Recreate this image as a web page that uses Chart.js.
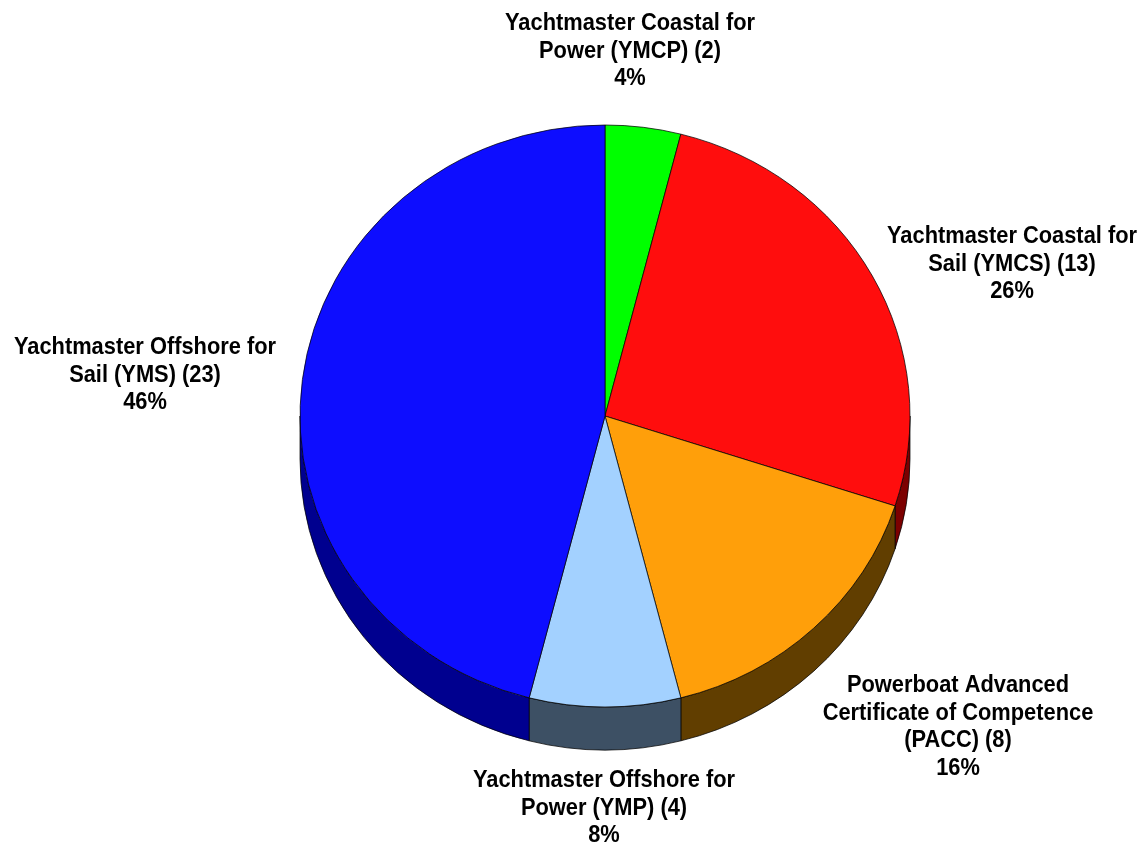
<!DOCTYPE html>
<html>
<head>
<meta charset="utf-8">
<script src="https://cdn.jsdelivr.net/npm/chart.js@4.4.0/dist/chart.umd.min.js"></script>
<style>
html,body{margin:0;padding:0;background:#fff;}
#wrap{width:1148px;height:848px;position:relative;}
</style>
</head>
<body>
<div id="wrap"><canvas id="c" width="1148" height="848"></canvas></div>
<script>
// ---- data ----
const categories = [
  'Yachtmaster Coastal for Power (YMCP)',
  'Yachtmaster Coastal for Sail (YMCS)',
  'Powerboat Advanced Certificate of Competence (PACC)',
  'Yachtmaster Offshore for Power (YMP)',
  'Yachtmaster Offshore for Sail (YMS)'
];
const counts = [2, 13, 8, 4, 23];
const labelNameLines = [
  ['Yachtmaster Coastal for', 'Power (YMCP)'],
  ['Yachtmaster Coastal for', 'Sail (YMCS)'],
  ['Powerboat Advanced', 'Certificate of Competence', '(PACC)'],
  ['Yachtmaster Offshore for', 'Power (YMP)'],
  ['Yachtmaster Offshore for', 'Sail (YMS)']
];
const topColors = ['#00FF00', '#FF0D0D', '#FF9F0A', '#A3D1FF', '#0D0DFF'];
const sideColors = ['#008800', '#7C0000', '#613E00', '#3D5064', '#00008F'];

// ---- layout constants ----
const RX = 305, RY = 291, DEPTH = 43;
const K = RY / RX;
const labelAnchors = [
  {x: 630, y: 30},
  {x: 1012, y: 243},
  {x: 958, y: 692},
  {x: 604, y: 787},
  {x: 145, y: 354}
];
const LINE_H = 27.5;

const total = counts.reduce((a, b) => a + b, 0);

const pie3d = {
  id: 'pie3d',
  beforeDatasetsDraw(chart) {
    const ctx = chart.ctx;
    const arcs = chart.getDatasetMeta(0).data;
    if (!arcs.length) return;
    const cx = arcs[0].x, cy = arcs[0].y;
    ctx.save();
    ctx.translate(cx, cy);
    ctx.scale(1, K);
    ctx.translate(-cx, -cy);
    const D = DEPTH / K;
    arcs.forEach((arc, i) => {
      const a = Math.max(arc.startAngle, 0);
      const b = Math.min(arc.endAngle, Math.PI);
      if (b <= a) return;
      const r = arc.outerRadius;
      ctx.beginPath();
      ctx.arc(arc.x, arc.y, r, a, b);
      ctx.arc(arc.x, arc.y + D, r, b, a, true);
      ctx.closePath();
      ctx.fillStyle = sideColors[i];
      ctx.fill();
      ctx.lineWidth = 1;
      ctx.strokeStyle = 'rgba(0,0,0,0.75)';
      ctx.stroke();
    });
  },
  afterDatasetsDraw(chart) {
    chart.ctx.restore();
  },
  afterDraw(chart) {
    const ctx = chart.ctx;
    ctx.save();
    ctx.fillStyle = '#000';
    ctx.font = 'bold 24px "Liberation Sans", Arial, sans-serif';
    ctx.textAlign = 'center';
    ctx.textBaseline = 'alphabetic';
    labelNameLines.forEach((nl, i) => {
      const lines = nl.slice();
      lines[lines.length - 1] = lines[lines.length - 1] + ' (' + counts[i] + ')';
      lines.push(Math.round(counts[i] / total * 100) + '%');
      const an = labelAnchors[i];
      lines.forEach((t, j) => {
        ctx.save();
        ctx.translate(an.x, an.y + j * LINE_H);
        ctx.scale(0.91, 1);
        ctx.fillText(t, 0, 0);
        ctx.restore();
      });
    });
    ctx.restore();
  }
};

new Chart(document.getElementById('c'), {
  type: 'pie',
  data: {
    labels: categories,
    datasets: [{
      data: counts,
      backgroundColor: topColors,
      borderColor: 'rgba(0,0,0,0.75)',
      borderWidth: 1
    }]
  },
  options: {
    responsive: false,
    animation: false,
    radius: RX,
    layout: {padding: {left: 62, right: 0, top: 0, bottom: 16}},
    plugins: {
      legend: {display: false},
      tooltip: {enabled: false}
    },
    events: []
  },
  plugins: [pie3d]
});
</script>
</body>
</html>
